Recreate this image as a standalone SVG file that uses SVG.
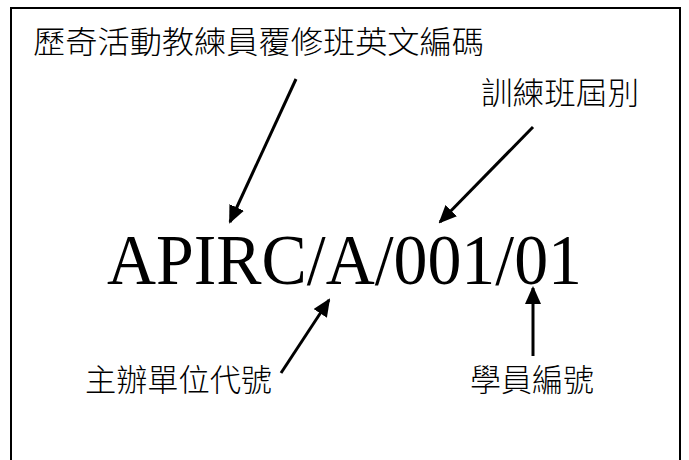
<svg xmlns="http://www.w3.org/2000/svg" width="689" height="460" viewBox="0 0 689 460">
<style>
.cjk{font-family:"Noto Sans CJK TC","Noto Sans CJK SC",sans-serif;font-size:31px;font-weight:300;fill:#000}
.code{font-family:"Liberation Serif",serif;font-size:72px;fill:#000}
.ln{stroke:#000;stroke-width:3;fill:none;marker-end:url(#ah)}
</style>
<defs>
<marker id="ah" markerUnits="userSpaceOnUse" markerWidth="18" markerHeight="16" refX="16" refY="8" orient="auto" viewBox="0 0 18 16">
<path d="M0,0 L18,8 L0,16 Z" fill="#000"/>
</marker>
</defs>
<rect x="11" y="8" width="669" height="470" fill="#fff" stroke="#000" stroke-width="2"/>
<g id="title"><text class="cjk" x="33" y="53" textLength="451" lengthAdjust="spacingAndGlyphs">歷奇活動教練員覆修班英文編碼</text></g>
<g id="batch"><text class="cjk" x="481" y="104" textLength="158" lengthAdjust="spacingAndGlyphs">訓練班屆別</text></g>
<g id="code"><text class="code" x="107" y="284" textLength="475" lengthAdjust="spacingAndGlyphs">APIRC/A/001/01</text></g>
<g id="org"><text class="cjk" x="85" y="391" textLength="187" lengthAdjust="spacingAndGlyphs">主辦單位代號</text></g>
<g id="student"><text class="cjk" x="470" y="391" textLength="124" lengthAdjust="spacingAndGlyphs">學員編號</text></g>
<g id="connectors">
<line class="ln" x1="281" y1="373" x2="329" y2="300"/>
<line class="ln" x1="296" y1="79" x2="230" y2="222"/>
<line class="ln" x1="533" y1="127" x2="440" y2="222"/>
<line class="ln" x1="533" y1="356" x2="533" y2="288"/>
</g>
</svg>
